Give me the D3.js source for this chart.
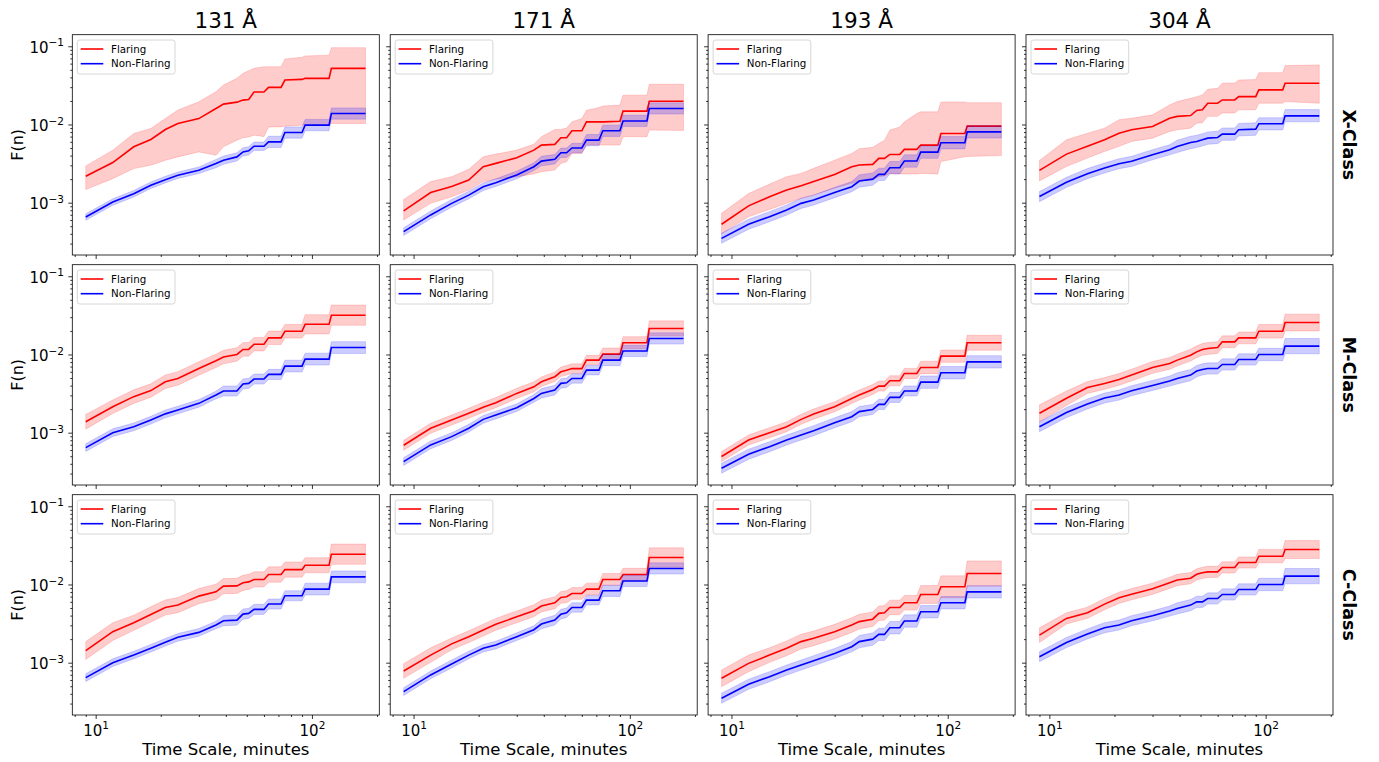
<!DOCTYPE html>
<html>
<head>
<meta charset="utf-8">
<script src="https://cdn.jsdelivr.net/npm/d3@7"></script>
<style>
  html, body { margin: 0; padding: 0; background: #fff; }
  text { font-family: "DejaVu Sans", sans-serif; }
</style>
</head>
<body>
<script>
// ---------------- DATA ----------------
const timeScales = [9, 12, 15, 18, 21, 24, 30, 36, 39, 45, 48, 51, 54, 60, 63, 72, 75, 90, 93, 120, 123, 177];
const wavelengths = ["131 Å", "171 Å", "193 Å", "304 Å"];
const flareClasses = ["X-Class", "M-Class", "C-Class"];
const seriesNames = ["Flaring", "Non-Flaring"];
const xMajorTicks = [10, 100];
const xMajorExp = ["1", "2"];
const yMajorTicks = [1e-3, 1e-2, 1e-1];
const yMajorExp = ["\u22123", "\u22122", "\u22121"];

// 131 Å, X-Class
const f131X   = [2.18e-3, 3.26e-3, 5.18e-3, 6.43e-3, 8.63e-3, 1.03e-2, 1.19e-2, 1.6e-2, 1.82e-2, 1.93e-2, 2.05e-2, 2.09e-2, 2.6e-2, 2.6e-2, 2.98e-2, 2.98e-2, 3.7e-2, 3.77e-2, 3.89e-2, 3.89e-2, 5.22e-2, 5.22e-2];
const f131XHi = [2.95e-3, 4.69e-3, 7.67e-3, 8.89e-3, 1.19e-2, 1.53e-2, 1.95e-2, 2.62e-2, 3.19e-2, 3.89e-2, 4.51e-2, 4.88e-2, 5.22e-2, 5.48e-2, 5.48e-2, 5.48e-2, 6.89e-2, 7.23e-2, 7.52e-2, 7.7e-2, 9.6e-2, 9.6e-2];
const f131XLo = [1.47e-3, 2.03e-3, 2.73e-3, 3.01e-3, 3.49e-3, 3.85e-3, 4.46e-3, 4.04e-3, 5.18e-3, 6.3e-3, 6.75e-3, 6.9e-3, 7.3e-3, 7.0e-3, 9.3e-3, 9.3e-3, 9.5e-3, 9.8e-3, 9.8e-3, 1.0e-2, 1.03e-2, 1.03e-2];
const n131X   = [6.55e-4, 1.02e-3, 1.3e-3, 1.67e-3, 1.97e-3, 2.24e-3, 2.6e-3, 3.16e-3, 3.49e-3, 3.85e-3, 4.46e-3, 4.6e-3, 5.27e-3, 5.27e-3, 6.0e-3, 6.0e-3, 7.89e-3, 7.89e-3, 9.8e-3, 9.8e-3, 1.38e-2, 1.38e-2];
const n131XHi = [7.2e-4, 1.12e-3, 1.43e-3, 1.84e-3, 2.17e-3, 2.46e-3, 2.86e-3, 3.57e-3, 3.94e-3, 4.35e-3, 5.04e-3, 5.2e-3, 5.96e-3, 5.96e-3, 7.08e-3, 7.08e-3, 9.31e-3, 9.31e-3, 1.16e-2, 1.16e-2, 1.63e-2, 1.63e-2];
const n131XLo = [5.95e-4, 9.27e-4, 1.18e-3, 1.52e-3, 1.79e-3, 2.04e-3, 2.36e-3, 2.8e-3, 3.09e-3, 3.41e-3, 3.95e-3, 4.07e-3, 4.66e-3, 4.66e-3, 5.08e-3, 5.08e-3, 6.69e-3, 6.69e-3, 8.31e-3, 8.31e-3, 1.17e-2, 1.17e-2];

// 171 Å, X-Class
const f171X   = [7.84e-4, 1.35e-3, 1.61e-3, 1.95e-3, 2.89e-3, 3.18e-3, 3.76e-3, 4.7e-3, 5.45e-3, 5.56e-3, 6.76e-3, 6.76e-3, 8.3e-3, 8.3e-3, 1.08e-2, 1.08e-2, 1.08e-2, 1.1e-2, 1.48e-2, 1.48e-2, 1.98e-2, 1.98e-2];
const f171XHi = [1.1e-3, 1.86e-3, 2.15e-3, 2.67e-3, 3.86e-3, 4.18e-3, 4.7e-3, 5.6e-3, 6.97e-3, 8.63e-3, 8.63e-3, 9.0e-3, 1.08e-2, 1.19e-2, 1.52e-2, 1.65e-2, 1.72e-2, 1.77e-2, 2.37e-2, 2.37e-2, 3.27e-2, 3.27e-2];
const f171XLo = [6.0e-4, 9.8e-4, 1.19e-3, 1.45e-3, 1.86e-3, 1.99e-3, 2.15e-3, 2.33e-3, 2.49e-3, 2.61e-3, 3.18e-3, 3.33e-3, 4.26e-3, 4.26e-3, 5.45e-3, 5.45e-3, 5.45e-3, 5.45e-3, 6.97e-3, 6.97e-3, 8.47e-3, 8.4e-3];
const n171X   = [4.27e-4, 6.97e-4, 9.8e-4, 1.25e-3, 1.6e-3, 1.8e-3, 2.26e-3, 2.88e-3, 3.4e-3, 3.6e-3, 4.35e-3, 4.35e-3, 5.0e-3, 5.0e-3, 6.3e-3, 6.3e-3, 8.3e-3, 8.3e-3, 1.11e-2, 1.11e-2, 1.6e-2, 1.6e-2];
const n171XHi = [4.78e-4, 7.81e-4, 1.1e-3, 1.4e-3, 1.79e-3, 2.02e-3, 2.53e-3, 3.23e-3, 3.91e-3, 4.14e-3, 5.0e-3, 5.0e-3, 5.75e-3, 5.75e-3, 7.43e-3, 7.43e-3, 9.79e-3, 9.79e-3, 1.31e-2, 1.31e-2, 1.89e-2, 1.89e-2];
const n171XLo = [3.81e-4, 6.22e-4, 8.75e-4, 1.12e-3, 1.43e-3, 1.61e-3, 2.02e-3, 2.57e-3, 2.96e-3, 3.13e-3, 3.78e-3, 3.78e-3, 4.35e-3, 4.35e-3, 5.34e-3, 5.34e-3, 7.03e-3, 7.03e-3, 9.41e-3, 9.41e-3, 1.36e-2, 1.36e-2];

// 193 Å, X-Class
const f193X   = [5.3e-4, 9.1e-4, 1.19e-3, 1.45e-3, 1.65e-3, 1.86e-3, 2.3e-3, 2.88e-3, 3.03e-3, 3.09e-3, 3.69e-3, 3.69e-3, 4.14e-3, 4.14e-3, 4.8e-3, 4.8e-3, 5.45e-3, 5.45e-3, 7.67e-3, 7.67e-3, 9.52e-3, 9.52e-3];
const f193XHi = [7.3e-4, 1.31e-3, 1.73e-3, 2.15e-3, 2.37e-3, 2.75e-3, 3.5e-3, 4.26e-3, 4.9e-3, 5.1e-3, 5.7e-3, 6.3e-3, 8.47e-3, 9.3e-3, 1.08e-2, 1.38e-2, 1.45e-2, 1.45e-2, 1.94e-2, 1.94e-2, 1.9e-2, 1.9e-2];
const f193XLo = [4.0e-4, 6.6e-4, 8.2e-4, 9.8e-4, 1.14e-3, 1.25e-3, 1.53e-3, 1.77e-3, 1.9e-3, 1.95e-3, 2.15e-3, 2.2e-3, 2.37e-3, 2.33e-3, 2.33e-3, 2.33e-3, 2.37e-3, 2.33e-3, 3.35e-3, 3.86e-3, 3.9e-3, 4.0e-3];
const n193X   = [3.5e-4, 5.3e-4, 6.62e-4, 8.05e-4, 9.8e-4, 1.08e-3, 1.35e-3, 1.6e-3, 1.89e-3, 2.0e-3, 2.3e-3, 2.3e-3, 2.8e-3, 2.8e-3, 3.41e-3, 3.41e-3, 4.43e-3, 4.43e-3, 5.84e-3, 5.84e-3, 8.05e-3, 8.05e-3];
const n193XHi = [4.06e-4, 6.15e-4, 7.68e-4, 9.34e-4, 1.14e-3, 1.25e-3, 1.57e-3, 1.86e-3, 2.27e-3, 2.4e-3, 2.76e-3, 2.76e-3, 3.36e-3, 3.36e-3, 4.09e-3, 4.09e-3, 5.32e-3, 5.32e-3, 7.01e-3, 7.01e-3, 9.66e-3, 9.66e-3];
const n193XLo = [3.02e-4, 4.57e-4, 5.71e-4, 6.94e-4, 8.45e-4, 9.31e-4, 1.16e-3, 1.38e-3, 1.58e-3, 1.67e-3, 1.92e-3, 1.92e-3, 2.33e-3, 2.33e-3, 2.84e-3, 2.84e-3, 3.69e-3, 3.69e-3, 4.87e-3, 4.87e-3, 6.71e-3, 6.71e-3];

// 304 Å, X-Class
const f304X   = [2.59e-3, 4.18e-3, 5.25e-3, 6.36e-3, 7.74e-3, 8.55e-3, 9.43e-3, 1.2e-2, 1.27e-2, 1.3e-2, 1.51e-2, 1.54e-2, 1.87e-2, 1.87e-2, 2.06e-2, 2.06e-2, 2.27e-2, 2.27e-2, 2.77e-2, 2.77e-2, 3.37e-2, 3.37e-2];
const f304XHi = [3.47e-3, 6.36e-3, 7.74e-3, 8.98e-3, 1.15e-2, 1.2e-2, 1.33e-2, 1.78e-2, 1.96e-2, 2.16e-2, 2.27e-2, 2.39e-2, 2.82e-2, 2.9e-2, 3.37e-2, 3.4e-2, 3.7e-2, 3.75e-2, 4.6e-2, 4.6e-2, 5.66e-2, 5.78e-2];
const f304XLo = [1.9e-3, 2.9e-3, 3.72e-3, 4.52e-3, 5.25e-3, 6.07e-3, 6.69e-3, 8.14e-3, 8.55e-3, 8.98e-3, 1.04e-2, 1.05e-2, 1.27e-2, 1.27e-2, 1.4e-2, 1.4e-2, 1.54e-2, 1.54e-2, 1.87e-2, 1.87e-2, 1.96e-2, 1.87e-2];
const n304X   = [1.2e-3, 1.82e-3, 2.35e-3, 2.77e-3, 3.15e-3, 3.38e-3, 4.1e-3, 4.75e-3, 5.24e-3, 5.89e-3, 6.07e-3, 6.36e-3, 6.69e-3, 6.83e-3, 7.52e-3, 7.52e-3, 8.55e-3, 8.72e-3, 1.02e-2, 1.02e-2, 1.29e-2, 1.29e-2];
const n304XHi = [1.39e-3, 2.11e-3, 2.73e-3, 3.21e-3, 3.65e-3, 3.92e-3, 4.76e-3, 5.51e-3, 6.29e-3, 7.07e-3, 7.28e-3, 7.63e-3, 8.03e-3, 8.2e-3, 9.02e-3, 9.02e-3, 1.03e-2, 1.05e-2, 1.22e-2, 1.22e-2, 1.55e-2, 1.55e-2];
const n304XLo = [1.03e-3, 1.57e-3, 2.03e-3, 2.39e-3, 2.72e-3, 2.91e-3, 3.53e-3, 4.09e-3, 4.37e-3, 4.91e-3, 5.06e-3, 5.3e-3, 5.58e-3, 5.69e-3, 6.27e-3, 6.27e-3, 7.13e-3, 7.27e-3, 8.5e-3, 8.5e-3, 1.08e-2, 1.08e-2];

// 131 Å, M-Class
const f131M   = [1.38e-3, 2.15e-3, 2.89e-3, 3.45e-3, 4.48e-3, 4.94e-3, 6.62e-3, 8.3e-3, 9.3e-3, 1.0e-2, 1.16e-2, 1.16e-2, 1.35e-2, 1.35e-2, 1.63e-2, 1.63e-2, 1.98e-2, 1.98e-2, 2.43e-2, 2.43e-2, 3.18e-2, 3.18e-2];
const f131MHi = [1.71e-3, 2.62e-3, 3.53e-3, 4.21e-3, 5.47e-3, 6.03e-3, 8.08e-3, 1.01e-2, 1.13e-2, 1.22e-2, 1.42e-2, 1.42e-2, 1.65e-2, 1.65e-2, 1.99e-2, 1.99e-2, 2.42e-2, 2.42e-2, 3.23e-2, 3.23e-2, 4.29e-2, 4.29e-2];
const f131MLo = [1.11e-3, 1.76e-3, 2.37e-3, 2.83e-3, 3.67e-3, 4.05e-3, 5.43e-3, 6.8e-3, 7.62e-3, 8.2e-3, 9.51e-3, 9.51e-3, 1.11e-2, 1.11e-2, 1.34e-2, 1.34e-2, 1.62e-2, 1.62e-2, 1.83e-2, 1.83e-2, 2.36e-2, 2.36e-2];
const n131M   = [6.44e-4, 1.0e-3, 1.19e-3, 1.45e-3, 1.74e-3, 1.95e-3, 2.37e-3, 3.03e-3, 3.41e-3, 3.41e-3, 4.2e-3, 4.27e-3, 4.85e-3, 4.85e-3, 5.56e-3, 5.56e-3, 7.1e-3, 7.1e-3, 8.72e-3, 8.72e-3, 1.23e-2, 1.23e-2];
const n131MHi = [7.21e-4, 1.12e-3, 1.33e-3, 1.62e-3, 1.95e-3, 2.18e-3, 2.65e-3, 3.39e-3, 3.96e-3, 3.96e-3, 4.87e-3, 4.95e-3, 5.63e-3, 5.63e-3, 6.45e-3, 6.45e-3, 8.45e-3, 8.45e-3, 1.04e-2, 1.04e-2, 1.46e-2, 1.46e-2];
const n131MLo = [5.75e-4, 8.93e-4, 1.06e-3, 1.29e-3, 1.55e-3, 1.74e-3, 2.12e-3, 2.71e-3, 2.94e-3, 2.94e-3, 3.62e-3, 3.68e-3, 4.18e-3, 4.18e-3, 4.79e-3, 4.79e-3, 5.97e-3, 5.97e-3, 7.33e-3, 7.33e-3, 1.03e-2, 1.03e-2];

// 171 Å, M-Class
const f171M   = [6.9e-4, 1.14e-3, 1.45e-3, 1.77e-3, 2.11e-3, 2.42e-3, 3.18e-3, 3.86e-3, 4.48e-3, 5.2e-3, 6.0e-3, 6.3e-3, 6.6e-3, 6.6e-3, 8.47e-3, 8.47e-3, 1.01e-2, 1.01e-2, 1.41e-2, 1.41e-2, 2.15e-2, 2.15e-2];
const f171MHi = [8.0e-4, 1.32e-3, 1.68e-3, 2.05e-3, 2.45e-3, 2.81e-3, 3.69e-3, 4.48e-3, 5.15e-3, 5.98e-3, 6.9e-3, 7.25e-3, 7.59e-3, 7.59e-3, 9.74e-3, 9.74e-3, 1.21e-2, 1.21e-2, 1.69e-2, 1.69e-2, 2.69e-2, 2.69e-2];
const f171MLo = [5.95e-4, 9.83e-4, 1.25e-3, 1.53e-3, 1.82e-3, 2.09e-3, 2.74e-3, 3.33e-3, 3.9e-3, 4.52e-3, 5.22e-3, 5.48e-3, 5.74e-3, 5.74e-3, 7.37e-3, 7.37e-3, 8.42e-3, 8.42e-3, 1.18e-2, 1.18e-2, 1.72e-2, 1.72e-2];
const n171M   = [4.27e-4, 6.97e-4, 8.9e-4, 1.14e-3, 1.48e-3, 1.68e-3, 2.09e-3, 2.74e-3, 3.18e-3, 3.5e-3, 4.27e-3, 4.35e-3, 4.94e-3, 4.94e-3, 6.3e-3, 6.3e-3, 8.47e-3, 8.47e-3, 1.11e-2, 1.11e-2, 1.6e-2, 1.6e-2];
const n171MHi = [4.78e-4, 7.81e-4, 9.97e-4, 1.28e-3, 1.66e-3, 1.88e-3, 2.34e-3, 3.07e-3, 3.66e-3, 4.03e-3, 4.91e-3, 5.0e-3, 5.68e-3, 5.68e-3, 7.25e-3, 7.25e-3, 1.0e-2, 1.0e-2, 1.31e-2, 1.31e-2, 1.89e-2, 1.89e-2];
const n171MLo = [3.81e-4, 6.22e-4, 7.95e-4, 1.02e-3, 1.32e-3, 1.5e-3, 1.87e-3, 2.45e-3, 2.77e-3, 3.04e-3, 3.71e-3, 3.78e-3, 4.3e-3, 4.3e-3, 5.48e-3, 5.48e-3, 7.18e-3, 7.18e-3, 9.41e-3, 9.41e-3, 1.36e-2, 1.36e-2];

// 193 Å, M-Class
const f193M   = [4.96e-4, 8.05e-4, 1.0e-3, 1.19e-3, 1.48e-3, 1.73e-3, 2.15e-3, 2.74e-3, 3.03e-3, 3.57e-3, 3.94e-3, 3.94e-3, 4.61e-3, 4.61e-3, 5.72e-3, 5.72e-3, 6.83e-3, 6.83e-3, 9.52e-3, 9.52e-3, 1.41e-2, 1.41e-2];
const f193MHi = [5.75e-4, 9.34e-4, 1.16e-3, 1.38e-3, 1.72e-3, 2.01e-3, 2.49e-3, 3.18e-3, 3.51e-3, 4.14e-3, 4.57e-3, 4.57e-3, 5.35e-3, 5.35e-3, 6.64e-3, 6.64e-3, 8.2e-3, 8.2e-3, 1.14e-2, 1.14e-2, 1.76e-2, 1.76e-2];
const f193MLo = [4.28e-4, 6.94e-4, 8.62e-4, 1.03e-3, 1.28e-3, 1.49e-3, 1.85e-3, 2.36e-3, 2.61e-3, 3.08e-3, 3.4e-3, 3.4e-3, 3.97e-3, 3.97e-3, 4.93e-3, 4.93e-3, 5.69e-3, 5.69e-3, 7.93e-3, 7.93e-3, 1.13e-2, 1.13e-2];
const n193M   = [3.51e-4, 5.3e-4, 6.62e-4, 8.05e-4, 9.34e-4, 1.06e-3, 1.34e-3, 1.6e-3, 1.86e-3, 1.98e-3, 2.3e-3, 2.3e-3, 2.83e-3, 2.83e-3, 3.41e-3, 3.41e-3, 4.43e-3, 4.43e-3, 5.84e-3, 5.84e-3, 8.05e-3, 8.05e-3];
const n193MHi = [4.07e-4, 6.15e-4, 7.68e-4, 9.34e-4, 1.08e-3, 1.23e-3, 1.55e-3, 1.86e-3, 2.16e-3, 2.3e-3, 2.67e-3, 2.67e-3, 3.28e-3, 3.28e-3, 3.96e-3, 3.96e-3, 5.32e-3, 5.32e-3, 7.01e-3, 7.01e-3, 9.66e-3, 9.66e-3];
const n193MLo = [3.03e-4, 4.57e-4, 5.71e-4, 6.94e-4, 8.05e-4, 9.14e-4, 1.16e-3, 1.38e-3, 1.6e-3, 1.71e-3, 1.98e-3, 1.98e-3, 2.44e-3, 2.44e-3, 2.94e-3, 2.94e-3, 3.69e-3, 3.69e-3, 4.87e-3, 4.87e-3, 6.71e-3, 6.71e-3];

// 304 Å, M-Class
const f304M   = [1.77e-3, 2.75e-3, 3.79e-3, 4.26e-3, 4.8e-3, 5.45e-3, 6.83e-3, 7.67e-3, 8.47e-3, 9.8e-3, 1.08e-2, 1.16e-2, 1.19e-2, 1.23e-2, 1.45e-2, 1.45e-2, 1.63e-2, 1.63e-2, 1.98e-2, 1.98e-2, 2.56e-2, 2.56e-2];
const f304MHi = [2.27e-3, 3.41e-3, 4.51e-3, 5.07e-3, 5.71e-3, 6.49e-3, 8.13e-3, 9.13e-3, 1.01e-2, 1.17e-2, 1.29e-2, 1.38e-2, 1.42e-2, 1.46e-2, 1.73e-2, 1.73e-2, 1.94e-2, 1.94e-2, 2.42e-2, 2.42e-2, 3.28e-2, 3.28e-2];
const f304MLo = [1.38e-3, 2.22e-3, 3.18e-3, 3.58e-3, 4.03e-3, 4.58e-3, 5.74e-3, 6.45e-3, 7.12e-3, 8.24e-3, 9.08e-3, 9.75e-3, 1.0e-2, 1.03e-2, 1.22e-2, 1.22e-2, 1.37e-2, 1.37e-2, 1.62e-2, 1.62e-2, 2.0e-2, 2.0e-2];
const n304M   = [1.19e-3, 1.81e-3, 2.33e-3, 2.77e-3, 3.03e-3, 3.44e-3, 4.02e-3, 4.57e-3, 4.94e-3, 5.45e-3, 6.13e-3, 6.44e-3, 6.62e-3, 6.62e-3, 7.45e-3, 7.45e-3, 8.63e-3, 8.63e-3, 1.0e-2, 1.0e-2, 1.28e-2, 1.28e-2];
const n304MHi = [1.38e-3, 2.1e-3, 2.7e-3, 3.21e-3, 3.51e-3, 3.99e-3, 4.66e-3, 5.3e-3, 5.83e-3, 6.43e-3, 7.23e-3, 7.6e-3, 7.81e-3, 7.81e-3, 8.79e-3, 8.79e-3, 1.02e-2, 1.02e-2, 1.2e-2, 1.2e-2, 1.6e-2, 1.6e-2];
const n304MLo = [1.03e-3, 1.56e-3, 2.01e-3, 2.39e-3, 2.61e-3, 2.97e-3, 3.47e-3, 3.94e-3, 4.19e-3, 4.62e-3, 5.19e-3, 5.46e-3, 5.61e-3, 5.61e-3, 6.31e-3, 6.31e-3, 7.31e-3, 7.31e-3, 8.33e-3, 8.33e-3, 1.02e-2, 1.02e-2];

// 131 Å, C-Class
const f131C   = [1.43e-3, 2.49e-3, 3.24e-3, 4.14e-3, 5.08e-3, 5.45e-3, 7.1e-3, 8.05e-3, 9.52e-3, 9.6e-3, 1.05e-2, 1.08e-2, 1.16e-2, 1.16e-2, 1.34e-2, 1.34e-2, 1.55e-2, 1.55e-2, 1.76e-2, 1.76e-2, 2.44e-2, 2.44e-2];
const f131CHi = [1.86e-3, 3.24e-3, 4.05e-3, 5.18e-3, 6.35e-3, 6.81e-3, 8.88e-3, 1.01e-2, 1.19e-2, 1.2e-2, 1.31e-2, 1.35e-2, 1.45e-2, 1.45e-2, 1.68e-2, 1.68e-2, 1.94e-2, 1.94e-2, 2.2e-2, 2.2e-2, 3.29e-2, 3.29e-2];
const f131CLo = [1.1e-3, 1.92e-3, 2.59e-3, 3.31e-3, 4.06e-3, 4.36e-3, 5.68e-3, 6.44e-3, 7.62e-3, 7.68e-3, 8.4e-3, 8.64e-3, 9.28e-3, 9.28e-3, 1.07e-2, 1.07e-2, 1.24e-2, 1.24e-2, 1.41e-2, 1.41e-2, 1.81e-2, 1.81e-2];
const n131C   = [6.44e-4, 1.0e-3, 1.25e-3, 1.53e-3, 1.82e-3, 2.11e-3, 2.44e-3, 3.03e-3, 3.44e-3, 3.5e-3, 4.18e-3, 4.27e-3, 4.8e-3, 4.8e-3, 5.62e-3, 5.62e-3, 7.17e-3, 7.17e-3, 8.72e-3, 8.72e-3, 1.25e-2, 1.25e-2];
const n131CHi = [7.21e-4, 1.12e-3, 1.4e-3, 1.71e-3, 2.04e-3, 2.36e-3, 2.73e-3, 3.39e-3, 3.99e-3, 4.06e-3, 4.85e-3, 4.95e-3, 5.57e-3, 5.57e-3, 6.52e-3, 6.52e-3, 8.32e-3, 8.32e-3, 1.04e-2, 1.04e-2, 1.49e-2, 1.49e-2];
const n131CLo = [5.75e-4, 8.93e-4, 1.12e-3, 1.37e-3, 1.63e-3, 1.88e-3, 2.18e-3, 2.71e-3, 2.97e-3, 3.02e-3, 3.6e-3, 3.68e-3, 4.14e-3, 4.14e-3, 4.84e-3, 4.84e-3, 6.18e-3, 6.18e-3, 7.33e-3, 7.33e-3, 1.05e-2, 1.05e-2];

// 171 Å, C-Class
const f171C   = [7.84e-4, 1.25e-3, 1.74e-3, 2.15e-3, 2.61e-3, 3.09e-3, 3.86e-3, 4.61e-3, 5.3e-3, 5.84e-3, 6.83e-3, 6.97e-3, 7.67e-3, 7.67e-3, 8.72e-3, 8.72e-3, 1.16e-2, 1.16e-2, 1.34e-2, 1.34e-2, 2.21e-2, 2.21e-2];
const f171CHi = [9.72e-4, 1.55e-3, 2.07e-3, 2.56e-3, 3.11e-3, 3.68e-3, 4.59e-3, 5.49e-3, 6.31e-3, 6.95e-3, 8.13e-3, 8.29e-3, 9.13e-3, 9.13e-3, 1.04e-2, 1.04e-2, 1.38e-2, 1.38e-2, 1.61e-2, 1.61e-2, 2.94e-2, 2.94e-2];
const f171CLo = [6.32e-4, 1.01e-3, 1.46e-3, 1.81e-3, 2.19e-3, 2.6e-3, 3.24e-3, 3.87e-3, 4.45e-3, 4.91e-3, 5.74e-3, 5.86e-3, 6.45e-3, 6.45e-3, 7.33e-3, 7.33e-3, 9.75e-3, 9.75e-3, 1.12e-2, 1.12e-2, 1.66e-2, 1.66e-2];
const n171C   = [4.27e-4, 6.97e-4, 9.6e-4, 1.25e-3, 1.53e-3, 1.68e-3, 2.15e-3, 2.64e-3, 3.12e-3, 3.5e-3, 4.18e-3, 4.35e-3, 5.08e-3, 5.08e-3, 6.3e-3, 6.3e-3, 8.3e-3, 8.3e-3, 1.11e-2, 1.11e-2, 1.6e-2, 1.6e-2];
const n171CHi = [4.78e-4, 7.81e-4, 1.08e-3, 1.4e-3, 1.71e-3, 1.88e-3, 2.41e-3, 2.96e-3, 3.59e-3, 4.03e-3, 4.81e-3, 5.0e-3, 5.84e-3, 5.84e-3, 7.25e-3, 7.25e-3, 9.79e-3, 9.79e-3, 1.31e-2, 1.31e-2, 1.89e-2, 1.89e-2];
const n171CLo = [3.81e-4, 6.22e-4, 8.57e-4, 1.12e-3, 1.37e-3, 1.5e-3, 1.92e-3, 2.36e-3, 2.71e-3, 3.04e-3, 3.63e-3, 3.78e-3, 4.42e-3, 4.42e-3, 5.48e-3, 5.48e-3, 7.03e-3, 7.03e-3, 9.41e-3, 9.41e-3, 1.36e-2, 1.36e-2];

// 193 Å, C-Class
const f193C   = [6.32e-4, 9.8e-4, 1.25e-3, 1.53e-3, 1.86e-3, 2.05e-3, 2.49e-3, 3.03e-3, 3.35e-3, 3.6e-3, 4.27e-3, 4.35e-3, 5.08e-3, 5.08e-3, 5.83e-3, 5.83e-3, 7.45e-3, 7.45e-3, 9.34e-3, 9.34e-3, 1.38e-2, 1.38e-2];
const f193CHi = [8.09e-4, 1.25e-3, 1.55e-3, 1.9e-3, 2.31e-3, 2.54e-3, 3.09e-3, 3.76e-3, 4.15e-3, 4.46e-3, 5.29e-3, 5.39e-3, 6.3e-3, 6.3e-3, 7.23e-3, 7.23e-3, 9.69e-3, 9.69e-3, 1.29e-2, 1.29e-2, 2.0e-2, 2.0e-2];
const f193CLo = [4.94e-4, 7.66e-4, 1.01e-3, 1.23e-3, 1.5e-3, 1.65e-3, 2.01e-3, 2.44e-3, 2.7e-3, 2.9e-3, 3.44e-3, 3.51e-3, 4.1e-3, 4.1e-3, 4.7e-3, 4.7e-3, 5.73e-3, 5.73e-3, 6.77e-3, 6.77e-3, 9.52e-3, 9.52e-3];
const n193C   = [3.51e-4, 5.3e-4, 6.62e-4, 8.05e-4, 9.34e-4, 1.06e-3, 1.31e-3, 1.6e-3, 1.86e-3, 2.0e-3, 2.3e-3, 2.3e-3, 2.8e-3, 2.8e-3, 3.41e-3, 3.41e-3, 4.48e-3, 4.48e-3, 5.84e-3, 5.84e-3, 8.05e-3, 8.05e-3];
const n193CHi = [4.07e-4, 6.15e-4, 7.68e-4, 9.34e-4, 1.08e-3, 1.23e-3, 1.52e-3, 1.86e-3, 2.23e-3, 2.4e-3, 2.76e-3, 2.76e-3, 3.36e-3, 3.36e-3, 4.09e-3, 4.09e-3, 5.38e-3, 5.38e-3, 7.01e-3, 7.01e-3, 9.66e-3, 9.66e-3];
const n193CLo = [3.03e-4, 4.57e-4, 5.71e-4, 6.94e-4, 8.05e-4, 9.14e-4, 1.13e-3, 1.38e-3, 1.55e-3, 1.67e-3, 1.92e-3, 1.92e-3, 2.33e-3, 2.33e-3, 2.84e-3, 2.84e-3, 3.73e-3, 3.73e-3, 4.87e-3, 4.87e-3, 6.71e-3, 6.71e-3];

// 304 Å, C-Class
const f304C   = [2.25e-3, 3.68e-3, 4.35e-3, 5.61e-3, 6.76e-3, 7.52e-3, 8.8e-3, 1.05e-2, 1.14e-2, 1.2e-2, 1.35e-2, 1.41e-2, 1.45e-2, 1.45e-2, 1.65e-2, 1.65e-2, 1.91e-2, 1.91e-2, 2.3e-2, 2.3e-2, 2.8e-2, 2.8e-2];
const f304CHi = [2.79e-3, 4.34e-3, 5.13e-3, 6.62e-3, 7.98e-3, 8.87e-3, 1.04e-2, 1.24e-2, 1.35e-2, 1.42e-2, 1.59e-2, 1.66e-2, 1.71e-2, 1.71e-2, 1.95e-2, 1.95e-2, 2.25e-2, 2.25e-2, 2.81e-2, 2.81e-2, 3.64e-2, 3.64e-2];
const f304CLo = [1.81e-3, 3.12e-3, 3.69e-3, 4.75e-3, 5.73e-3, 6.37e-3, 7.46e-3, 8.9e-3, 9.66e-3, 1.02e-2, 1.14e-2, 1.19e-2, 1.23e-2, 1.23e-2, 1.4e-2, 1.4e-2, 1.62e-2, 1.62e-2, 1.89e-2, 1.89e-2, 2.15e-2, 2.15e-2];
const n304C   = [1.19e-3, 1.81e-3, 2.33e-3, 2.8e-3, 3.03e-3, 3.44e-3, 3.98e-3, 4.57e-3, 4.94e-3, 5.45e-3, 6.0e-3, 6.0e-3, 6.62e-3, 6.62e-3, 7.45e-3, 7.45e-3, 8.63e-3, 8.63e-3, 1.0e-2, 1.0e-2, 1.28e-2, 1.28e-2];
const n304CHi = [1.38e-3, 2.1e-3, 2.7e-3, 3.25e-3, 3.51e-3, 3.99e-3, 4.62e-3, 5.3e-3, 5.83e-3, 6.43e-3, 7.08e-3, 7.08e-3, 7.81e-3, 7.81e-3, 8.79e-3, 8.79e-3, 1.02e-2, 1.02e-2, 1.2e-2, 1.2e-2, 1.6e-2, 1.6e-2];
const n304CLo = [1.03e-3, 1.56e-3, 2.01e-3, 2.41e-3, 2.61e-3, 2.97e-3, 3.43e-3, 3.94e-3, 4.19e-3, 4.62e-3, 5.08e-3, 5.08e-3, 5.61e-3, 5.61e-3, 6.31e-3, 6.31e-3, 7.31e-3, 7.31e-3, 8.33e-3, 8.33e-3, 1.02e-2, 1.02e-2];

// panel table [row][col] built from the arrays above
const panelData = [
  [[f131X, f131XLo, f131XHi, n131X, n131XLo, n131XHi], [f171X, f171XLo, f171XHi, n171X, n171XLo, n171XHi],
   [f193X, f193XLo, f193XHi, n193X, n193XLo, n193XHi], [f304X, f304XLo, f304XHi, n304X, n304XLo, n304XHi]],
  [[f131M, f131MLo, f131MHi, n131M, n131MLo, n131MHi], [f171M, f171MLo, f171MHi, n171M, n171MLo, n171MHi],
   [f193M, f193MLo, f193MHi, n193M, n193MLo, n193MHi], [f304M, f304MLo, f304MHi, n304M, n304MLo, n304MHi]],
  [[f131C, f131CLo, f131CHi, n131C, n131CLo, n131CHi], [f171C, f171CLo, f171CHi, n171C, n171CLo, n171CHi],
   [f193C, f193CLo, f193CHi, n193C, n193CLo, n193CHi], [f304C, f304CLo, f304CHi, n304C, n304CLo, n304CHi]]
];

// ---------------- LAYOUT ----------------
const W = 1379, H = 762;
const PX0 = 72.3, PDX = 317.9, PW = 307;
const PY0 = 34.7, PDY = 230, PH = 220.3;
const X_DOMAIN = [Math.pow(10, 0.892), Math.pow(10, 2.3115)];
const Y_DOMAIN = [Math.pow(10, -3.669), Math.pow(10, -0.852)];
const RED = "#ff0000", BLUE = "#0000ff";
const FONT = "DejaVu Sans, sans-serif";

const svg = d3.select("body").append("svg")
  .attr("width", W).attr("height", H)
  .attr("viewBox", `0 0 ${W} ${H}`);
svg.append("rect").attr("width", W).attr("height", H).attr("fill", "#fff");

const xMinor = [];
[1, 10, 100].forEach(d => { for (let k = 2; k <= 9; k++) xMinor.push(k * d); });
const yMinor = [];
[1e-4, 1e-3, 1e-2].forEach(d => { for (let k = 2; k <= 9; k++) yMinor.push(k * d); });
const inDom = (v, dom) => v >= dom[0] && v <= dom[1];

function addSup(textSel, base, exp, expDy) {
  textSel.text(null);
  textSel.append("tspan").text(base);
  textSel.append("tspan").attr("font-size", "10.5px").attr("dy", expDy).text(exp);
}

panelData.forEach((rowArr, r) => {
  rowArr.forEach((arrs, c) => {
    arrs.forEach(a => { if (a.length !== timeScales.length) throw new Error("length mismatch r" + r + " c" + c); });
    const x0 = PX0 + PDX * c, y0 = PY0 + PDY * r;
    const x = d3.scaleLog().domain(X_DOMAIN).range([x0, x0 + PW]);
    const y = d3.scaleLog().domain(Y_DOMAIN).range([y0 + PH, y0]);
    const g = svg.append("g");

    const [fm, fl, fh, nm, nl, nh] = arrs;
    const rowsF = timeScales.map((t, i) => ({ t, m: fm[i], lo: fl[i], hi: fh[i] }));
    const rowsN = timeScales.map((t, i) => ({ t, m: nm[i], lo: nl[i], hi: nh[i] }));
    const area = d3.area().x(d => x(d.t)).y0(d => y(d.lo)).y1(d => y(d.hi));
    const line = d3.line().x(d => x(d.t)).y(d => y(d.m));

    g.append("path").datum(rowsF).attr("d", area)
      .attr("fill", RED).attr("fill-opacity", 0.2)
      .attr("stroke", RED).attr("stroke-opacity", 0.2).attr("stroke-width", 0.8);
    g.append("path").datum(rowsF).attr("d", line)
      .attr("fill", "none").attr("stroke", RED).attr("stroke-width", 1.6);
    g.append("path").datum(rowsN).attr("d", area)
      .attr("fill", BLUE).attr("fill-opacity", 0.2)
      .attr("stroke", BLUE).attr("stroke-opacity", 0.2).attr("stroke-width", 0.8);
    g.append("path").datum(rowsN).attr("d", line)
      .attr("fill", "none").attr("stroke", BLUE).attr("stroke-width", 1.6);

    // axes: minor ticks
    const gxm = g.append("g").attr("transform", `translate(0,${y0 + PH})`)
      .call(d3.axisBottom(x).tickValues(xMinor.filter(v => inDom(v, X_DOMAIN))).tickSize(2).tickSizeOuter(0).tickFormat(""));
    const gym = g.append("g").attr("transform", `translate(${x0},0)`)
      .call(d3.axisLeft(y).tickValues(yMinor.filter(v => inDom(v, Y_DOMAIN))).tickSize(2).tickSizeOuter(0).tickFormat(""));
    // major ticks
    const gx = g.append("g").attr("transform", `translate(0,${y0 + PH})`)
      .call(d3.axisBottom(x).tickValues(xMajorTicks).tickSize(4).tickSizeOuter(0));
    const gy = g.append("g").attr("transform", `translate(${x0},0)`)
      .call(d3.axisLeft(y).tickValues(yMajorTicks).tickSize(4).tickSizeOuter(0));
    [gxm, gym, gx, gy].forEach(a => {
      a.select(".domain").remove();
      a.selectAll(".tick line").attr("stroke", "#000").attr("stroke-width", 0.8);
    });

    if (r === 2) {
      gx.selectAll(".tick text").each(function (d, i) {
        const t = d3.select(this);
        t.attr("y", 20.5).attr("dy", 0).attr("fill", "#000")
          .attr("font-family", FONT).attr("font-size", "15px").attr("text-anchor", "middle");
        addSup(t, "10", xMajorExp[i], -6.6);
      });
    } else {
      gx.selectAll(".tick text").remove();
    }
    if (c === 0) {
      gy.selectAll(".tick text").each(function (d, i) {
        const t = d3.select(this);
        t.attr("x", -8.3).attr("dy", "0.42em").attr("fill", "#000")
          .attr("font-family", FONT).attr("font-size", "15px").attr("text-anchor", "end");
        addSup(t, "10", yMajorExp[i], -6.6);
      });
    } else {
      gy.selectAll(".tick text").remove();
    }

    // spines
    g.append("rect").attr("x", x0).attr("y", y0).attr("width", PW).attr("height", PH)
      .attr("fill", "none").attr("stroke", "#000").attr("stroke-width", 0.8);

    // legend
    const lg = g.append("g").attr("transform", `translate(${x0 + 5},${y0 + 5.3})`);
    lg.append("rect").attr("width", 97.7).attr("height", 34).attr("rx", 2.5)
      .attr("fill", "#fff").attr("fill-opacity", 0.8).attr("stroke", "#cccccc").attr("stroke-width", 0.8);
    [RED, BLUE].forEach((col, i) => {
      const ly = 9 + 14.7 * i;
      lg.append("line").attr("x1", 3.4).attr("x2", 26).attr("y1", ly).attr("y2", ly)
        .attr("stroke", col).attr("stroke-width", 1.6);
      lg.append("text").attr("x", 33.7).attr("y", ly + 3.7)
        .attr("font-family", FONT).attr("font-size", "10.3px").attr("fill", "#000")
        .text(seriesNames[i]);
    });

    // column titles
    if (r === 0) {
      svg.append("text").attr("x", x0 + PW / 2).attr("y", 28.3)
        .attr("text-anchor", "middle").attr("font-family", FONT).attr("font-size", "21.5px")
        .attr("fill", "#000").text(wavelengths[c]);
    }
    // x label
    if (r === 2) {
      svg.append("text").attr("x", x0 + PW / 2).attr("y", 755)
        .attr("text-anchor", "middle").attr("font-family", FONT).attr("font-size", "16.5px")
        .attr("fill", "#000").text("Time Scale, minutes");
    }
    // y label
    if (c === 0) {
      const cy = y0 + PH / 2;
      svg.append("text").attr("transform", `translate(22.5,${cy}) rotate(-90)`)
        .attr("text-anchor", "middle").attr("font-family", FONT).attr("font-size", "16px")
        .attr("fill", "#000").text("F(n)");
    }
    // row label
    if (c === 3) {
      const cy = y0 + PH / 2;
      svg.append("text").attr("transform", `translate(1343,${cy}) rotate(90)`)
        .attr("text-anchor", "middle").attr("font-family", FONT).attr("font-size", "17.5px")
        .attr("font-weight", "bold").attr("fill", "#000").text(flareClasses[r]);
    }
  });
});
</script>
</body>
</html>
